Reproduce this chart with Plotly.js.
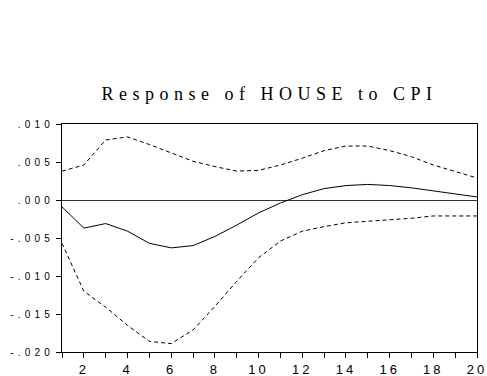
<!DOCTYPE html>
<html>
<head>
<meta charset="utf-8">
<script src="https://cdn.plot.ly/plotly-3.0.1.min.js"></script>
<style>
  html, body { margin: 0; padding: 0; background: #fff; }
  #chart { width: 487px; height: 376px; }
  .ytick text { letter-spacing: 4.2px; }
  .xtick text { letter-spacing: 3px; }
  .gtitle { letter-spacing: 5.5px; }
</style>
</head>
<body>
<div id="chart"></div>
<script>
const periods = [1,2,3,4,5,6,7,8,9,10,11,12,13,14,15,16,17,18,19,20];
const response = [-0.0009,-0.0037,-0.0031,-0.0041,-0.0057,-0.0063,-0.0060,-0.0048,-0.0033,-0.0017,-0.0004,0.0007,0.0015,0.0019,0.00205,0.0019,0.0016,0.0012,0.0008,0.0004];
const upperBand = [0.0038,0.0046,0.0079,0.0083,0.0073,0.0062,0.0051,0.0044,0.0038,0.0039,0.0046,0.0055,0.0065,0.0071,0.0071,0.0065,0.0057,0.0046,0.0038,0.0029];
const lowerBand = [-0.0057,-0.0120,-0.0141,-0.0165,-0.0186,-0.0189,-0.0171,-0.0140,-0.0107,-0.0076,-0.0054,-0.0041,-0.0035,-0.0030,-0.0028,-0.0026,-0.0024,-0.0021,-0.0021,-0.0021];
const xTickLabels = ['','2','','4','','6','','8','','10','','12','','14','','16','','18','','20'];
const yTickVals = [-0.020,-0.015,-0.010,-0.005,0.000,0.005,0.010];
const yTickLabels = ['-.020','-.015','-.010','-.005','.000','.005','.010'];

const traces = [
  {x: periods, y: upperBand, mode: 'lines', line: {color: '#000', width: 1, dash: '4px,3px'}},
  {x: periods, y: lowerBand, mode: 'lines', line: {color: '#000', width: 1, dash: '4px,3px'}},
  {x: periods, y: response, mode: 'lines', line: {color: '#000', width: 1}}
];

const layout = {
  width: 487, height: 376,
  margin: {l: 62, r: 10, t: 124, b: 24},
  paper_bgcolor: '#fff', plot_bgcolor: '#fff',
  showlegend: false,
  title: {
    text: 'Response of HOUSE to CPI',
    font: {family: 'Liberation Serif, Times New Roman, serif', size: 18, color: '#000'},
    x: 0.5, xref: 'paper', xanchor: 'center',
    y: 0.75, yref: 'container', yanchor: 'middle'
  },
  xaxis: {
    range: [1, 20],
    tickvals: periods, ticktext: xTickLabels,
    ticks: 'outside', ticklen: 5, tickcolor: '#000', tickwidth: 1,
    showgrid: false, zeroline: false,
    showline: true, linecolor: '#000', linewidth: 1, mirror: true,
    tickfont: {family: 'Liberation Sans, Arial, sans-serif', size: 13, color: '#000'},
    ticklabelstandoff: 0,
    ticklabeloverflow: 'allow'
  },
  yaxis: {
    range: [-0.020, 0.010],
    tickvals: yTickVals, ticktext: yTickLabels,
    ticks: 'outside', ticklen: 5, tickcolor: '#000', tickwidth: 1,
    showgrid: false,
    zeroline: true, zerolinecolor: '#333', zerolinewidth: 1,
    showline: true, linecolor: '#000', linewidth: 1, mirror: true,
    tickfont: {family: 'Liberation Sans, Arial, sans-serif', size: 10, color: '#000'},
    ticklabeloverflow: 'allow'
  }
};

Plotly.newPlot('chart', traces, layout, {displayModeBar: false, staticPlot: true});
</script>
</body>
</html>
